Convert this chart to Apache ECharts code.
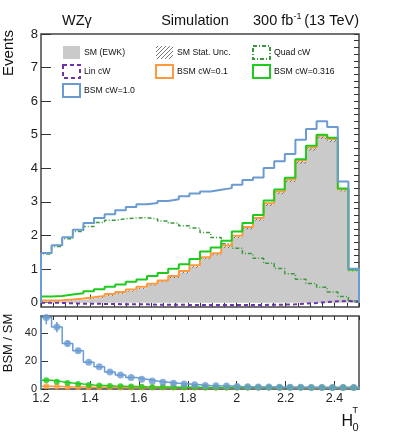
<!DOCTYPE html>
<html>
<head>
<meta charset="utf-8">
<script src="https://cdn.jsdelivr.net/npm/echarts@6.0.0/dist/echarts.min.js"></script>
<style>
html, body { margin: 0; padding: 0; background: #fff; }
#main { width: 399px; height: 442px; }
</style>
</head>
<body>
<div id="main"></div>
<script>
// binning of H0T
const binLo = 1.2;
const binHi = 2.5;
const nBins = 30;

// top pad, events per bin
const smEwk = [0.03, 0.04, 0.06, 0.08, 0.12, 0.16, 0.22, 0.28, 0.35, 0.43,
               0.53, 0.63, 0.76, 0.90, 1.07, 1.32, 1.44, 1.66, 1.95, 2.22,
               2.48, 2.92, 3.27, 3.63, 4.19, 4.58, 4.93, 4.83, 3.35, 0.95];
const smStatUnc = [0.01, 0.01, 0.01, 0.01, 0.01, 0.02, 0.02, 0.02, 0.02, 0.02,
                   0.02, 0.02, 0.03, 0.03, 0.03, 0.03, 0.03, 0.03, 0.03, 0.04,
                   0.04, 0.04, 0.04, 0.04, 0.05, 0.05, 0.05, 0.05, 0.04, 0.02];
const linCw = [0.00, -0.01, -0.02, -0.03, -0.03, -0.04, -0.04, -0.05, -0.05, -0.05,
               -0.06, -0.06, -0.06, -0.07, -0.07, -0.07, -0.07, -0.07, -0.07, -0.07,
               -0.07, -0.06, -0.06, -0.05, -0.03, -0.01, 0.02, 0.04, 0.05, 0.03];
const quadCw = [1.45, 1.67, 1.90, 2.12, 2.27, 2.39, 2.45, 2.50, 2.52, 2.53,
                2.49, 2.43, 2.37, 2.29, 2.22, 2.09, 1.94, 1.75, 1.62, 1.46,
                1.32, 1.17, 1.02, 0.86, 0.70, 0.57, 0.46, 0.32, 0.18, 0.05];
const bsmCw01 = [0.06, 0.07, 0.09, 0.12, 0.16, 0.20, 0.26, 0.32, 0.39, 0.47,
                 0.56, 0.66, 0.79, 0.94, 1.11, 1.35, 1.47, 1.70, 1.99, 2.25,
                 2.52, 2.96, 3.31, 3.67, 4.23, 4.62, 4.97, 4.87, 3.38, 0.98];
const bsmCw0316 = [0.18, 0.20, 0.24, 0.28, 0.34, 0.40, 0.47, 0.54, 0.62, 0.69,
                   0.79, 0.88, 1.01, 1.14, 1.30, 1.52, 1.64, 1.84, 2.12, 2.37,
                   2.61, 3.04, 3.37, 3.72, 4.27, 4.67, 5.00, 4.91, 3.40, 0.98];
const bsmCw10 = [1.48, 1.71, 1.95, 2.17, 2.37, 2.52, 2.63, 2.75, 2.85, 2.93,
                 2.97, 3.03, 3.08, 3.17, 3.25, 3.31, 3.36, 3.41, 3.51, 3.65,
                 3.73, 4.01, 4.21, 4.43, 4.85, 5.17, 5.40, 5.23, 3.61, 1.01];

// bottom pad, BSM / SM
const ratioCw01 = [2.0, 1.8, 1.5, 1.5, 1.3, 1.25, 1.2, 1.15, 1.1, 1.1,
                   1.06, 1.05, 1.04, 1.04, 1.04, 1.02, 1.02, 1.02, 1.02, 1.01,
                   1.01, 1.01, 1.01, 1.01, 1.01, 1.01, 1.01, 1.01, 1.01, 1.03];
const ratioCw0316 = [6.3, 5.3, 4.4, 3.6, 2.9, 2.5, 2.1, 1.9, 1.8, 1.6,
                     1.5, 1.4, 1.3, 1.3, 1.2, 1.15, 1.14, 1.1, 1.09, 1.07,
                     1.05, 1.04, 1.03, 1.03, 1.02, 1.02, 1.01, 1.02, 1.01, 1.03];
const ratioCw10 = [51.5, 44.5, 32.7, 27.5, 19.2, 16.0, 12.2, 10.0, 8.3, 7.0,
                   5.7, 4.9, 4.1, 3.6, 3.1, 2.6, 2.3, 2.1, 1.8, 1.6,
                   1.5, 1.4, 1.3, 1.2, 1.2, 1.1, 1.1, 1.1, 1.1, 1.1];
const ratioCw10Err = [5.0, 3.6, 2.2, 1.5, 1.0, 0.8, 0.6, 0.5, 0.4, 0.3,
                      0.3, 0.2, 0.2, 0.2, 0.1, 0.1, 0.1, 0.1, 0.1, 0.1,
                      0.1, 0.1, 0.1, 0.1, 0.1, 0.1, 0.1, 0.1, 0.1, 0.1];

// axis ticks
const xMajorTicks = [1.2, 1.4, 1.6, 1.8, 2.0, 2.2, 2.4];
const yMajorTicks = [0, 1, 2, 3, 4, 5, 6, 7, 8];
const ratioTicks = [0, 20, 40];

const FONT = 'Liberation Sans, Arial, sans-serif';
const C_GRAY = '#cacaca';
const C_BLUE = '#6a9bd3';
const C_ORANGE = '#ff9a3c';
const C_GREEN = '#1ecb1e';
const C_PURPLE = '#6b34a8';
const C_QUAD = '#3a9a3a';
const C_AXIS = '#333';

const yMin = -0.13, yMax = 8;
const rMax = 52.5;

let binW = (binHi - binLo) / nBins;
function edge(i) { return binLo + i * binW; }
function center(i) { return binLo + (i + 0.5) * binW; }

// histogram outline as step line
function stepData(vals) {
    let d = [[binLo, 0]];
    vals.forEach((v, i) => d.push([edge(i), v]));
    d.push([binHi, vals[vals.length - 1]]);
    d.push([binHi, 0]);
    return d;
}
function pointData(vals) {
    return vals.map((v, i) => [center(i), v]);
}

let xMinor = [];
for (let i = 0; i <= 26; i++) xMinor.push(+(binLo + i * 0.05).toFixed(2));
let yMinor = [];
for (let i = 0; i <= 40; i++) yMinor.push(+(i * 0.2).toFixed(1));

// hatch pattern for stat. unc.
let hatch = document.createElement('canvas');
hatch.width = 4; hatch.height = 4;
let hctx = hatch.getContext('2d');
hctx.strokeStyle = '#555';
hctx.lineWidth = 0.8;
hctx.beginPath();
hctx.moveTo(0, 4); hctx.lineTo(4, 0);
hctx.moveTo(-1, 1); hctx.lineTo(1, -1);
hctx.moveTo(3, 5); hctx.lineTo(5, 3);
hctx.stroke();

function xAxisCfg(grid, ticks, len, labels) {
    return {
        gridIndex: grid, type: 'value', min: binLo, max: binHi,
        axisLine: {show: false}, splitLine: {show: false},
        axisTick: {inside: true, length: len, customValues: ticks, lineStyle: {color: C_AXIS}},
        axisLabel: labels ? {
            customValues: xMajorTicks, margin: 3, fontSize: 12.5, color: '#222', fontFamily: FONT,
            formatter: v => String(Math.round(v * 10) / 10)
        } : {show: false}
    };
}

let lineStyleSeries = (name, vals, color, width, dash, z) => ({
    name: name, type: 'line', xAxisIndex: 0, yAxisIndex: 0,
    data: stepData(vals), step: 'end', symbol: 'none', z: z,
    lineStyle: {color: color, width: width, type: dash || 'solid'},
    animation: false
});

let ratioLine = (vals, color, z) => ({
    type: 'line', xAxisIndex: 2, yAxisIndex: 2, data: stepData(vals), step: 'end',
    symbol: 'none', z: z, lineStyle: {color: color, width: 1.5}, animation: false
});
let ratioPts = (vals, color, size, z) => ({
    type: 'scatter', xAxisIndex: 2, yAxisIndex: 2, data: pointData(vals),
    symbol: 'circle', symbolSize: size, itemStyle: {color: color}, z: z, animation: false
});

function legendItem(x, y, box, text) {
    return [
        Object.assign({type: 'rect', shape: {x: x, y: y, width: 17, height: 13}}, box),
        {type: 'text', x: x + 21, y: y + 7, style: {text: text, font: '8.7px ' + FONT, fill: '#111', verticalAlign: 'middle'}}
    ];
}

let graphics = [].concat(
    legendItem(63, 46, {style: {fill: C_GRAY}}, 'SM (EWK)'),
    legendItem(156, 46, {style: {fill: {image: hatch, repeat: 'repeat'}}}, 'SM Stat. Unc.'),
    legendItem(253, 46, {style: {fill: 'none', stroke: C_QUAD, lineWidth: 2, lineDash: [4, 2, 1, 2]}}, 'Quad cW'),
    legendItem(63, 65, {style: {fill: 'none', stroke: C_PURPLE, lineWidth: 2, lineDash: [4, 3]}}, 'Lin cW'),
    legendItem(156, 65, {style: {fill: 'none', stroke: C_ORANGE, lineWidth: 2}}, 'BSM cW=0.1'),
    legendItem(253, 65, {style: {fill: 'none', stroke: C_GREEN, lineWidth: 2}}, 'BSM cW=0.316'),
    legendItem(63, 84, {style: {fill: 'none', stroke: C_BLUE, lineWidth: 2}}, 'BSM cW=1.0'),
    [
        {type: 'text', x: 62, y: 21, style: {text: 'WZγ', font: '14.5px ' + FONT, fill: '#111', verticalAlign: 'middle'}},
        {type: 'text', x: 195, y: 21, style: {text: 'Simulation', font: '14.5px ' + FONT, fill: '#111', align: 'center', verticalAlign: 'middle'}},
        {type: 'text', x: 253, y: 21, style: {text: '300 fb', font: '14.5px ' + FONT, fill: '#111', verticalAlign: 'middle'}},
        {type: 'text', x: 293.5, y: 17, style: {text: '-1', font: '9px ' + FONT, fill: '#111', verticalAlign: 'middle'}},
        {type: 'text', x: 359, y: 21, style: {text: '(13 TeV)', font: '14.5px ' + FONT, fill: '#111', align: 'right', verticalAlign: 'middle'}},
        {type: 'text', x: 9, y: 53, rotation: Math.PI / 2, style: {text: 'Events', font: '15px ' + FONT, fill: '#111', align: 'center', verticalAlign: 'middle'}},
        {type: 'text', x: 8, y: 343, rotation: Math.PI / 2, style: {text: 'BSM / SM', font: '13px ' + FONT, fill: '#111', align: 'center', verticalAlign: 'middle'}},
        {type: 'text', x: 341.5, y: 421.5, style: {text: 'H', font: '16px ' + FONT, fill: '#111', verticalAlign: 'middle'}},
        {type: 'text', x: 352.5, y: 410.5, style: {text: 'T', font: '9px ' + FONT, fill: '#111', verticalAlign: 'middle'}},
        {type: 'text', x: 352.5, y: 427.5, style: {text: '0', font: '11px ' + FONT, fill: '#111', verticalAlign: 'middle'}}
    ]
);

let chart = echarts.init(document.getElementById('main'), null, {renderer: 'canvas'});
chart.setOption({
    animation: false,
    backgroundColor: '#fff',
    grid: [
        {left: 41, right: 40, top: 34, height: 273, show: true, borderColor: '#444', borderWidth: 1.5, backgroundColor: 'transparent'},
        {left: 41, right: 40, top: 316, height: 73, show: true, borderColor: '#444', borderWidth: 1.5, backgroundColor: 'transparent'}
    ],
    xAxis: [
        xAxisCfg(0, xMajorTicks, 8, false),
        xAxisCfg(0, xMinor, 4, false),
        xAxisCfg(1, xMajorTicks, 8, true),
        xAxisCfg(1, xMinor, 4, false)
    ],
    yAxis: [
        {
            gridIndex: 0, type: 'value', min: yMin, max: yMax,
            axisLine: {show: false}, splitLine: {show: false},
            axisTick: {inside: true, length: 10, customValues: yMajorTicks, lineStyle: {color: C_AXIS}},
            axisLabel: {customValues: yMajorTicks, margin: 3, fontSize: 13, color: '#222', fontFamily: FONT}
        },
        {
            gridIndex: 0, type: 'value', min: yMin, max: yMax,
            axisLine: {show: false}, splitLine: {show: false},
            axisTick: {inside: true, length: 5, customValues: yMinor, lineStyle: {color: C_AXIS}},
            axisLabel: {show: false}
        },
        {
            gridIndex: 1, type: 'value', min: 0, max: rMax,
            axisLine: {show: false}, splitLine: {show: false},
            axisTick: {inside: true, length: 7, customValues: ratioTicks, lineStyle: {color: C_AXIS}},
            axisLabel: {customValues: ratioTicks, margin: 4, fontSize: 11, color: '#222', fontFamily: FONT}
        }
    ],
    graphic: graphics,
    series: [
        {
            name: 'SM (EWK)', type: 'line', xAxisIndex: 0, yAxisIndex: 0,
            data: stepData(smEwk), step: 'end', symbol: 'none', z: 1,
            lineStyle: {width: 0}, areaStyle: {color: C_GRAY, opacity: 1}
        },
        {
            name: 'SM Stat. Unc.', type: 'custom', xAxisIndex: 0, yAxisIndex: 0, z: 2,
            data: smEwk.map((v, i) => [i, v, smStatUnc[i]]),
            renderItem: function (params, api) {
                let i = api.value(0), v = api.value(1), e = api.value(2);
                let p0 = api.coord([edge(i), v + e]);
                let p1 = api.coord([edge(i + 1), v - e]);
                return {type: 'rect', shape: {x: p0[0], y: p0[1], width: p1[0] - p0[0], height: p1[1] - p0[1]},
                        style: {fill: {image: hatch, repeat: 'repeat'}}};
            }
        },
        lineStyleSeries('Quad cW', quadCw, C_QUAD, 1.5, [4, 2, 1, 2], 3),
        lineStyleSeries('Lin cW', linCw, C_PURPLE, 2, [4, 3], 3),
        lineStyleSeries('BSM cW=0.1', bsmCw01, C_ORANGE, 2, null, 4),
        lineStyleSeries('BSM cW=0.316', bsmCw0316, C_GREEN, 2, null, 5),
        lineStyleSeries('BSM cW=1.0', bsmCw10, C_BLUE, 2, null, 6),

        ratioLine(ratioCw01, C_ORANGE, 3),
        ratioLine(ratioCw0316, C_GREEN, 4),
        ratioLine(ratioCw10, C_BLUE, 5),
        {
            type: 'custom', xAxisIndex: 2, yAxisIndex: 2, z: 6,
            data: ratioCw10.map((v, i) => [center(i), v, ratioCw10Err[i]]),
            renderItem: function (params, api) {
                let x = api.value(0), v = api.value(1), e = api.value(2);
                let top = api.coord([x, Math.min(v + e, rMax)]);
                let bot = api.coord([x, Math.max(v - e, 0)]);
                return {type: 'line', shape: {x1: top[0], y1: top[1], x2: bot[0], y2: bot[1]},
                        style: {stroke: C_BLUE, lineWidth: 1.5}};
            }
        },
        ratioPts(ratioCw01, C_ORANGE, 6, 6),
        ratioPts(ratioCw0316, C_GREEN, 6, 7),
        ratioPts(ratioCw10, C_BLUE, 7, 8)
    ]
});
</script>
</body>
</html>
